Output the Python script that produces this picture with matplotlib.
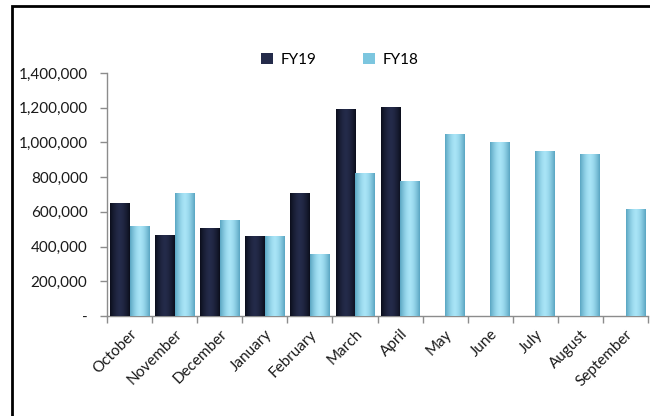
import numpy as np
import matplotlib
matplotlib.use('Agg')
import matplotlib.pyplot as plt
from matplotlib.lines import Line2D
from matplotlib.ticker import FuncFormatter

plt.rcParams['font.family'] = ['Lato', 'DejaVu Sans']

# Monthly figures, fiscal year starting in October
months = ['October', 'November', 'December', 'January', 'February', 'March',
          'April', 'May', 'June', 'July', 'August', 'September']
fy19 = [649000, 466000, 506000, 460000, 711000, 1193000, 1207000,
        np.nan, np.nan, np.nan, np.nan, np.nan]
fy18 = [518000, 708000, 552000, 463000, 356000, 822000, 780000,
        1050000, 1004000, 950000, 935000, 617000]

fig = plt.figure(figsize=(6.5, 4.16), dpi=100)
ax = fig.add_axes([0.1646, 0.2404, 0.8324, 0.5841])

x = np.arange(len(months))
w = 0.43


def shaded_bars(xs, vals, edge, mid):
    # flat bar plus a horizontal gradient to give the rounded look
    bars = ax.bar(xs, vals, w, color=mid, linewidth=0, zorder=2)
    grad = np.abs(np.linspace(-1, 1, 64)) ** 1.6
    edge = np.array(matplotlib.colors.to_rgb(edge))
    mid = np.array(matplotlib.colors.to_rgb(mid))
    img = (mid[None, :] * (1 - grad[:, None]) + edge[None, :] * grad[:, None])[None, :, :]
    for b, v in zip(bars, vals):
        if np.isnan(v):
            continue
        x0 = b.get_x()
        im = ax.imshow(img, extent=(x0, x0 + w, 0, v), aspect='auto',
                       zorder=3, interpolation='bilinear')
        im.set_clip_path(b)
    return bars


b19 = shaded_bars(x - w / 2, fy19, '#0b0e1c', '#242b4a')
b18 = shaded_bars(x + w / 2, fy18, '#5aa6c2', '#a8e4f6')

ax.set_xlim(-0.5, len(months) - 0.5)
ax.set_ylim(0, 1400000)
ax.set_yticks(np.arange(0, 1400001, 200000))
ax.yaxis.set_major_formatter(FuncFormatter(lambda v, p: '-' if v == 0 else f'{int(v):,}'))

ax.set_xticks(x)
ax.set_xticklabels(months, rotation=45, ha='right', rotation_mode='anchor')
ax.set_xticks(np.arange(-0.5, len(months)), minor=True)
ax.tick_params(axis='x', which='major', length=0, pad=8)
ax.tick_params(axis='x', which='minor', length=5, color='#8c8c8c', width=1)
ax.tick_params(axis='y', length=5, color='#8c8c8c', width=1, pad=9)
ax.tick_params(labelsize=11, labelcolor='#1a1a1a')

for s in ['top', 'right']:
    ax.spines[s].set_visible(False)
for s in ['left', 'bottom']:
    ax.spines[s].set_color('#8c8c8c')
    ax.spines[s].set_linewidth(1)

leg = ax.legend([b19, b18], ['FY19', 'FY18'], loc='upper center',
                bbox_to_anchor=(0.43, 1.14), ncol=2, frameon=False,
                fontsize=11, handlelength=0.8, handleheight=0.8,
                columnspacing=3.0, handletextpad=0.5)
leg.legend_handles[1].set_facecolor('#7cc6df')

# black frame along the top and left of the chart area
fx = 11.5 / 650
fy = 1 - 5.5 / 416
fig.lines.append(Line2D([fx, fx, 1.0], [0.0, fy, fy], transform=fig.transFigure,
                        color='black', linewidth=2, solid_joinstyle='miter'))

fig.savefig('out.png', dpi=100)
